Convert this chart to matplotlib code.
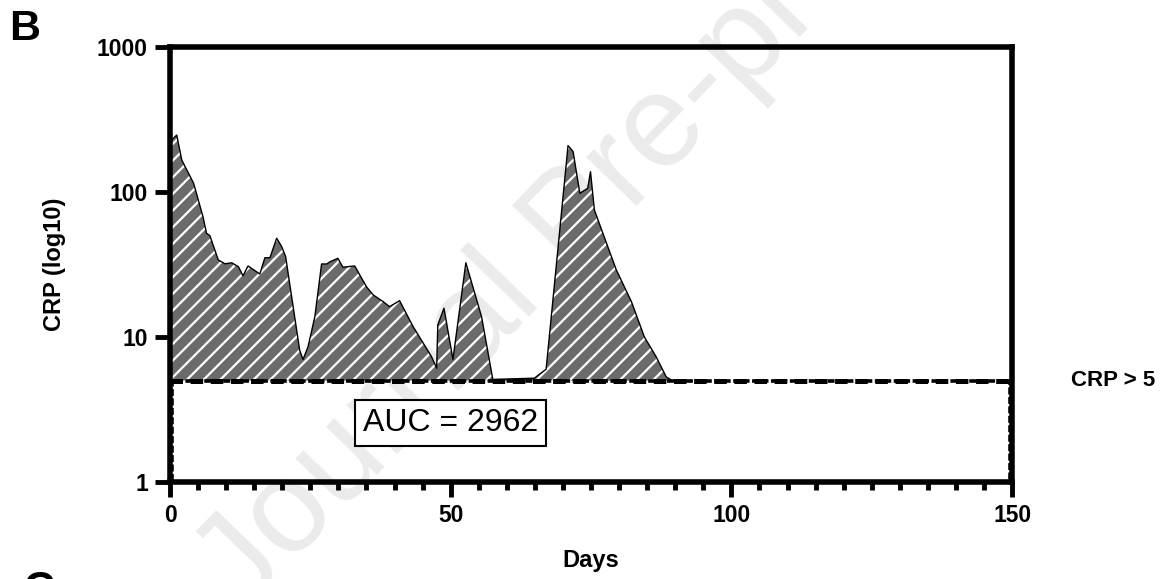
import matplotlib
matplotlib.use('Agg')
import matplotlib.pyplot as plt
from matplotlib.patches import Rectangle
from matplotlib.ticker import FixedLocator, NullLocator, FixedFormatter

plt.rcParams['font.family'] = ['Liberation Sans', 'DejaVu Sans']
plt.rcParams['hatch.linewidth'] = 1.6
plt.rcParams['lines.scale_dashes'] = False

# CRP over time
days = [0.3, 1.2, 2.1, 4.2, 5.9, 6.5, 7.1, 8.6, 9.8, 11.0, 12.2, 13.0, 13.9, 16.0,
        16.9, 17.8, 19.0, 19.9, 20.6, 21.4, 23.1, 23.7, 24.6, 25.8, 27.0, 27.9,
        28.5, 29.9, 30.8, 32.9, 35.0, 36.2, 38.0, 39.1, 40.9, 43.3, 46.6, 47.5,
        47.7, 48.8, 50.4, 52.7, 55.5, 57.5, 64.9, 67.0, 70.9, 71.8, 73.0, 74.4,
        74.9, 75.6, 79.5, 82.2, 84.5, 86.6, 88.4, 89.5]
crp = [229, 247, 166, 115, 67, 52, 50, 34, 32, 32.5, 30.5, 26.4, 30.9, 27.2,
       35.2, 35.2, 48, 42, 35.8, 22.2, 8.1, 7.0, 8.6, 13.8, 31.9, 31.9,
       33, 34.9, 30.3, 30.9, 22.2, 19.5, 17.5, 16.2, 17.8, 11.8, 7.3, 6.1,
       12.1, 15.8, 7.0, 32.5, 13.8, 5.1, 5.2, 6.0, 209, 190, 98, 106,
       138, 75, 29, 17.5, 10.0, 7.3, 5.3, 5.0]

threshold = 5
auc_label = 'AUC = 2962'
x_ticks = [0, 50, 100, 150]
y_ticks = [1, 10, 100, 1000]

fig = plt.figure(figsize=(11.62, 5.79), dpi=100)
ax = fig.add_axes([0.1463, 0.1675, 0.7247, 0.7513])
ax.set_facecolor('none')

# watermark
fig.text(0.21, -0.06, 'Journal Pre-proof', fontsize=95, color='#ebebeb',
         rotation=46, rotation_mode='anchor', ha='left', va='baseline', zorder=-5)

ax.fill_between(days, crp, threshold, where=[c >= threshold for c in crp],
                facecolor='#6b6b6b', edgecolor='white', hatch='//', linewidth=0,
                zorder=2)
ax.plot(days, crp, color='black', lw=1.0, zorder=3)

# threshold line + region box
ax.add_patch(Rectangle((0.35, 1.0), 149.3, threshold - 1.0, fill=False,
                       edgecolor='black', lw=2.6, linestyle=(0, (5, 1.8)),
                       zorder=4, clip_on=False))
ax.axhline(threshold, color='black', lw=3.6, dashes=(9, 5.5), zorder=4.5)

ax.text(50, 10 ** 0.407, auc_label, fontsize=23, ha='center', va='center',
        bbox=dict(boxstyle='square,pad=0.25', fc='white', ec='black', lw=1.5),
        zorder=5)
ax.text(1.07, threshold, 'CRP > 5', transform=ax.get_yaxis_transform(),
        fontsize=16, fontweight='bold', ha='left', va='center')

ax.set_yscale('log')
ax.set_xlim(0, 150)
ax.set_ylim(1, 1000)
ax.yaxis.set_major_locator(FixedLocator(y_ticks))
ax.yaxis.set_major_formatter(FixedFormatter([str(v) for v in y_ticks]))
ax.yaxis.set_minor_locator(NullLocator())
ax.xaxis.set_major_locator(FixedLocator(x_ticks))
ax.xaxis.set_minor_locator(FixedLocator(range(0, 151, 5)))

for s in ax.spines.values():
    s.set_linewidth(4)
ax.tick_params(which='major', length=11, width=3.5, labelsize=16.5, pad=5)
ax.tick_params(axis='x', which='minor', length=6, width=3.5)
for lab in ax.get_xticklabels() + ax.get_yticklabels():
    lab.set_fontweight('bold')

ax.set_xlabel('Days', fontsize=17, fontweight='bold', labelpad=16)
ax.set_ylabel('CRP (log10)', fontsize=17, fontweight='bold', labelpad=22)

fig.text(0.008, 0.985, 'B', fontsize=31, fontweight='bold', ha='left', va='top')
fig.text(0.02, 0.0155, 'C', fontsize=31, fontweight='bold', ha='left', va='top')

fig.savefig('out.png', dpi=100)
